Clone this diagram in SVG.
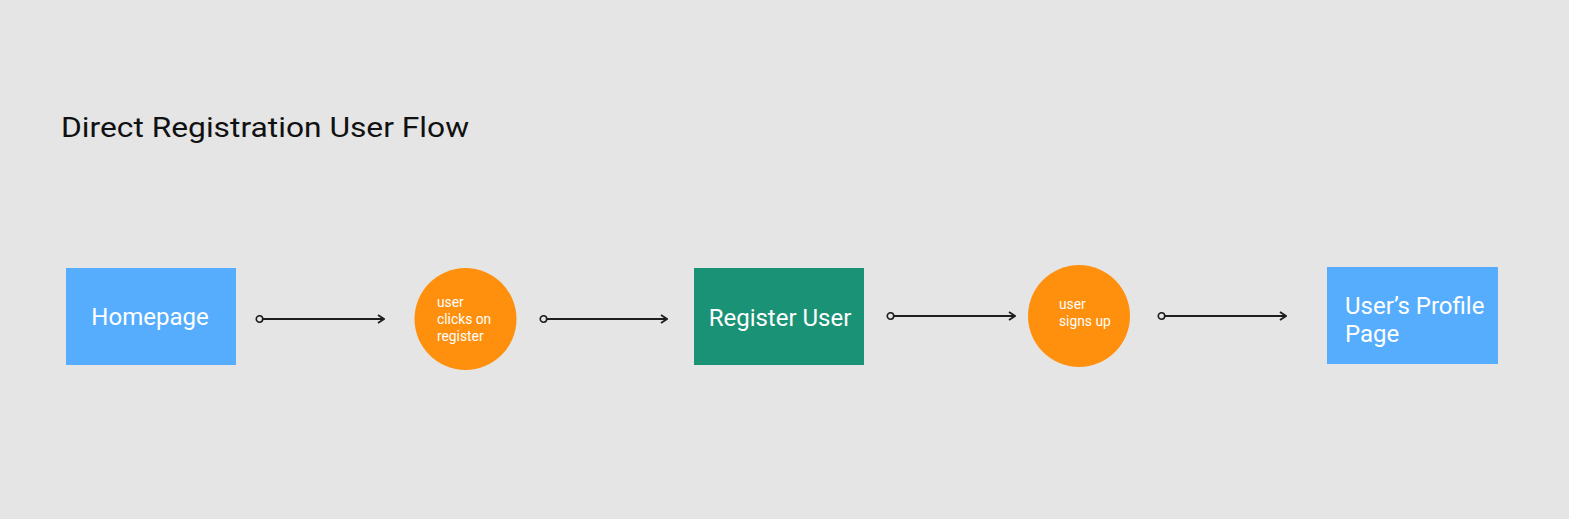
<svg xmlns="http://www.w3.org/2000/svg" width="1569" height="519" viewBox="0 0 1569 519">
<defs>
<marker id="arr" viewBox="0 0 10 10" refX="9" refY="5" markerWidth="10" markerHeight="10" markerUnits="userSpaceOnUse" orient="auto">
<path d="M3,1 L9,5 L3,9" fill="none" stroke="#1e1e1e" stroke-width="1.8"/>
</marker>
<marker id="dot" viewBox="0 0 10 10" refX="5" refY="5" markerWidth="9" markerHeight="9" markerUnits="userSpaceOnUse">
<circle cx="5" cy="5" r="3.6" fill="#e5e5e5" stroke="#1e1e1e" stroke-width="1.8"/>
</marker>
</defs>
<style>
.t{font-family:Roboto,"Liberation Sans",sans-serif;fill:#fff}
.big{font-size:24px}
.sm{font-size:13.8px}
.blue{fill:#56adfe}
.or{fill:#fe900e}
.conn{stroke:#1e1e1e;stroke-width:2;fill:none;marker-start:url(#dot);marker-end:url(#arr)}
</style>
<rect width="1569" height="519" fill="#e5e5e5"/>
<text x="61" y="137" font-family="Roboto,'Liberation Sans',sans-serif" font-size="28" fill="#111" textLength="408" lengthAdjust="spacingAndGlyphs">Direct Registration User Flow</text>
<g id="homepage"><rect class="blue" x="66" y="268" width="170" height="97"/><text class="t big" x="150" y="325" text-anchor="middle">Homepage</text></g>
<g id="clicks"><circle class="or" cx="465.5" cy="319" r="51"/><text class="t sm" x="437" y="307">user</text><text class="t sm" x="437" y="324">clicks on</text><text class="t sm" x="437" y="341">register</text></g>
<g id="register"><rect x="694" y="268" width="170" height="97" fill="#1a9276"/><text class="t big" x="780" y="326" text-anchor="middle">Register User</text></g>
<g id="signs"><circle class="or" cx="1079" cy="316" r="51"/><text class="t sm" x="1059" y="309">user</text><text class="t sm" x="1059" y="326">signs up</text></g>
<g id="profile"><rect class="blue" x="1327" y="267" width="171" height="97"/><text class="t big" x="1345" y="314">User’s Profile</text><text class="t big" x="1345" y="342">Page</text></g>
<g id="connectors">
<line class="conn" x1="259.5" y1="319" x2="384" y2="319"/>
<line class="conn" x1="543.5" y1="319" x2="667" y2="319"/>
<line class="conn" x1="890.5" y1="316" x2="1015" y2="316"/>
<line class="conn" x1="1161.5" y1="316" x2="1286" y2="316"/>
</g>
</svg>
